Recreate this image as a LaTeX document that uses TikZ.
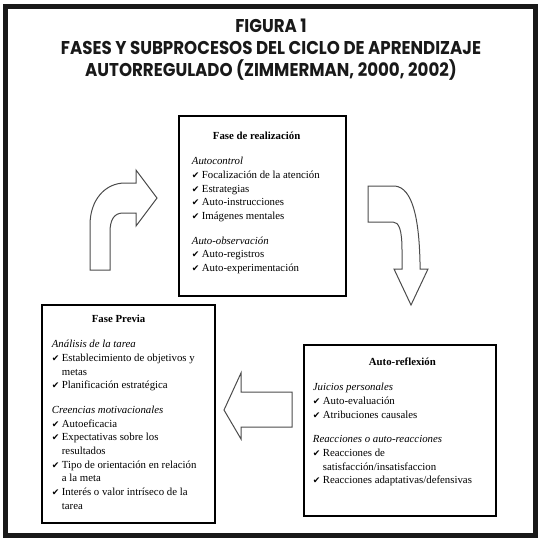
\documentclass[tikz,border=0pt]{standalone}
\usepackage{fontspec}
\setmainfont{Liberation Serif}
\newfontfamily\titlefont{Poppins}[FakeStretch=0.9]
\newfontfamily\tickfont{DejaVu Sans}
\newcommand{\phasefont}{\fontsize{10.8}{13.7}\selectfont}
\newcommand{\tick}{\makebox[10pt][l]{\tickfont\fontsize{9}{9}\selectfont ✔}}
\newcommand{\itm}[1]{\par\hangindent=10pt\hangafter=1\noindent\tick#1}
\newcommand{\grp}[1]{\par\vspace{11pt}\noindent\textit{#1}}
\newcommand{\phasehead}[3]{\noindent\rule{0pt}{#1}\hspace*{#2}\textbf{#3}}
\begin{document}
\begin{tikzpicture}[x=1pt,y=-1pt,
    phasebox/.style={draw,line width=1.8pt,anchor=north west,inner sep=0pt},
    blockarrow/.style={draw=black!70,line width=1pt,fill=white,line join=miter},
    headline/.style={font=\titlefont\bfseries\fontsize{18.5}{18.5}\selectfont,anchor=base,text=black!90}]
\useasboundingbox (0,0) rectangle (543,541);
\draw[line width=5pt,black!90] (5.5,6.5) rectangle (535.5,535.5);
% titulo
\node[headline] (fig)   at (271,32) {FIGURA 1};
\node[headline] (fases) at (271,54) {FASES Y SUBPROCESOS DEL CICLO DE APRENDIZAJE};
\node[headline] (autor) at (271,76) {AUTORREGULADO (ZIMMERMAN, 2000, 2002)};
% fases
\node[phasebox] (realizacion) at (178,115) {\parbox[t][180pt][t]{167pt}{\phasefont\raggedright\leftskip=13pt
    \phasehead{24pt}{21pt}{Fase de realización}
    \grp{Autocontrol}
    \itm{Focalización de la atención}
    \itm{Estrategias}
    \itm{Auto-instrucciones}
    \itm{Imágenes mentales}
    \grp{Auto-observación}
    \itm{Auto-registros}
    \itm{Auto-experimentación}}};
\node[phasebox] (previa) at (41,304) {\parbox[t][218pt][t]{173pt}{\phasefont\raggedright\leftskip=10pt
    \phasehead{18pt}{40pt}{Fase Previa}
    \grp{Análisis de la tarea}
    \itm{Establecimiento de objetivos y\newline metas}
    \itm{Planificación estratégica}
    \grp{Creencias motivacionales}
    \itm{Autoeficacia}
    \itm{Expectativas sobre los\newline resultados}
    \itm{Tipo de orientación en relación\newline a la meta}
    \itm{Interés o valor intríseco de la\newline tarea}}};
\node[phasebox] (reflexion) at (303,344) {\parbox[t][171pt][t]{192pt}{\phasefont\raggedright\leftskip=9pt
    \phasehead{21pt}{56pt}{Auto-reflexión}
    \grp{Juicios personales}
    \itm{Auto-evaluación}
    \itm{Atribuciones causales}
    \grp{Reacciones o auto-reacciones}
    \itm{Reacciones de\newline satisfacción/insatisfaccion}
    \itm{Reacciones adaptativas/defensivas}}};
% flechas del ciclo
\draw[blockarrow] (90,270) -- (90,225) .. controls (90,200) and (105,183) .. (125,183)
    -- (136,183) -- (136,170) -- (157,198) -- (136,226) -- (136,213) -- (123,213)
    .. controls (114,213) and (110,220) .. (110,232) -- (110,270) -- cycle;
\draw[blockarrow] (368,186) -- (395,186) .. controls (413,188) and (419,220) .. (420,262)
    -- (420,269) -- (428,269) -- (411,305) -- (394,269) -- (402,269) -- (402,250)
    .. controls (402,230) and (399,222) .. (393,222) -- (368,222) -- cycle;
\draw[blockarrow] (292,392) -- (241,392) -- (241,373) -- (224,410) -- (241,439)
    -- (241,427) -- (292,427) -- cycle;
\end{tikzpicture}
\end{document}
